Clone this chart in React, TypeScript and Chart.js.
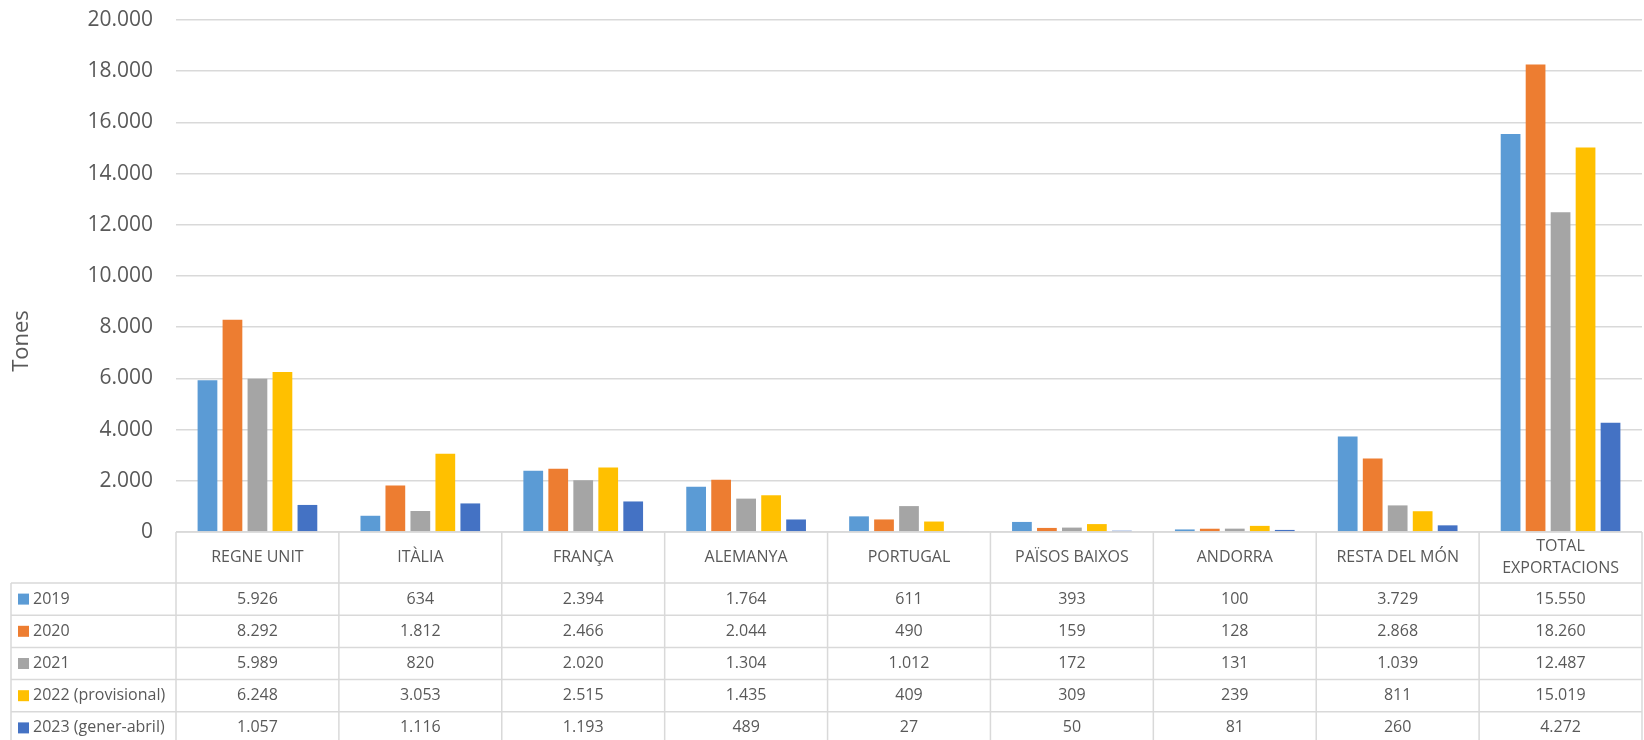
import React, { useEffect, useRef } from "react";
import { Chart, registerables } from "chart.js";

Chart.register(...registerables);

const categories = [
  "REGNE UNIT",
  "ITÀLIA",
  "FRANÇA",
  "ALEMANYA",
  "PORTUGAL",
  "PAÏSOS BAIXOS",
  "ANDORRA",
  "RESTA DEL MÓN",
  "TOTAL EXPORTACIONS",
];

const seriesNames = ["2019", "2020", "2021", "2022 (provisional)", "2023 (gener-abril)"];

const values2019 = [5926, 634, 2394, 1764, 611, 393, 100, 3729, 15550];
const values2020 = [8292, 1812, 2466, 2044, 490, 159, 128, 2868, 18260];
const values2021 = [5989, 820, 2020, 1304, 1012, 172, 131, 1039, 12487];
const values2022 = [6248, 3053, 2515, 1435, 409, 309, 239, 811, 15019];
const values2023 = [1057, 1116, 1193, 489, 27, 50, 81, 260, 4272];

const seriesValues = [values2019, values2020, values2021, values2022, values2023];
const seriesColors = ["#5B9BD5", "#ED7D31", "#A5A5A5", "#FFC000", "#4472C4"];

const yAxisTitle = "Tones";
const yMin = 0;
const yMax = 20000;
const yStep = 2000;

const FONT = "'Open Sans', 'Liberation Sans', sans-serif";
const TEXT = "#595959";
const LINE = "#d9d9d9";

function fmt(n: number): string {
  const s = String(Math.round(Math.abs(n)));
  const out = s.replace(/\B(?=(\d{3})+(?!\d))/g, ".");
  return n < 0 ? "-" + out : out;
}

function wrap(ctx: CanvasRenderingContext2D, text: string, maxW: number): string[] {
  const words = text.split(" ");
  const lines: string[] = [];
  let cur = "";
  for (const w of words) {
    const test = cur ? cur + " " + w : w;
    if (ctx.measureText(test).width > maxW && cur) {
      lines.push(cur);
      cur = w;
    } else cur = test;
  }
  if (cur) lines.push(cur);
  return lines;
}

const tablePlugin = {
  id: "dataTable",
  afterDraw(chart: any) {
    const ctx: CanvasRenderingContext2D = chart.ctx;
    const x = chart.scales.x;
    const y = chart.scales.y;
    const n = categories.length;
    const half = (x.getPixelForValue(1) - x.getPixelForValue(0)) / 2;
    const bounds: number[] = [];
    for (let i = 0; i < n; i++) bounds.push(x.getPixelForValue(i) - half);
    bounds.push(x.getPixelForValue(n - 1) + half);

    const top = y.getPixelForValue(0);
    const headerH = 51;
    const rowH = 32.2;
    const legendLeft = 11;
    const rowsTop = top + headerH;
    const bottom = rowsTop + rowH * seriesNames.length;
    const right = bounds[bounds.length - 1];

    ctx.save();
    ctx.strokeStyle = LINE;
    ctx.lineWidth = 1.5;
    ctx.beginPath();
    ctx.moveTo(bounds[0], top);
    ctx.lineTo(right, top);
    for (let r = 0; r <= seriesNames.length; r++) {
      const yy = rowsTop + r * rowH;
      ctx.moveTo(legendLeft, yy);
      ctx.lineTo(right, yy);
    }
    for (const b of bounds) {
      ctx.moveTo(b, top);
      ctx.lineTo(b, bottom);
    }
    ctx.moveTo(legendLeft, rowsTop);
    ctx.lineTo(legendLeft, bottom);
    ctx.stroke();

    ctx.fillStyle = TEXT;
    ctx.font = `16px ${FONT}`;
    ctx.textAlign = "center";
    ctx.textBaseline = "middle";
    for (let i = 0; i < n; i++) {
      const cx = (bounds[i] + bounds[i + 1]) / 2;
      const lines = wrap(ctx, categories[i], bounds[i + 1] - bounds[i] - 8);
      const lh = 22;
      const startY = top + headerH / 2 - ((lines.length - 1) * lh) / 2;
      lines.forEach((l, k) => ctx.fillText(l, cx, startY + k * lh));
    }
    for (let s = 0; s < seriesNames.length; s++) {
      const cy = rowsTop + s * rowH + rowH / 2;
      ctx.fillStyle = seriesColors[s];
      ctx.fillRect(legendLeft + 7, cy - 5.5, 11, 11);
      ctx.fillStyle = TEXT;
      ctx.textAlign = "left";
      ctx.fillText(seriesNames[s], legendLeft + 22, cy);
      ctx.textAlign = "center";
      for (let i = 0; i < n; i++) {
        const cx = (bounds[i] + bounds[i + 1]) / 2;
        ctx.fillText(fmt(seriesValues[s][i]), cx, cy);
      }
    }
    ctx.save();
    ctx.translate(22, 341);
    ctx.rotate(-Math.PI / 2);
    ctx.font = `22px ${FONT}`;
    ctx.textAlign = "center";
    ctx.textBaseline = "middle";
    ctx.fillStyle = TEXT;
    ctx.fillText(yAxisTitle, 0, 0);
    ctx.restore();
    ctx.restore();
  },
};

export default function App() {
  const ref = useRef<HTMLCanvasElement | null>(null);
  useEffect(() => {
    if (!ref.current) return;
    const chart = new Chart(ref.current, {
      type: "bar",
      data: {
        labels: categories,
        datasets: seriesNames.map((name, i) => ({
          label: name,
          data: seriesValues[i],
          backgroundColor: seriesColors[i],
          borderWidth: 0,
          categoryPercentage: 0.767,
          barPercentage: 0.79,
        })),
      },
      options: {
        animation: false,
        responsive: false,
        devicePixelRatio: 1,
        layout: { padding: { top: 20, bottom: 208, left: 0, right: 2 } },
        plugins: {
          legend: { display: false },
          tooltip: { enabled: false },
          title: { display: false },
        },
        scales: {
          x: { display: false },
          y: {
            min: yMin,
            max: yMax,
            border: { display: false },
            grid: { color: LINE, lineWidth: 1.5, drawTicks: false },
            ticks: {
              stepSize: yStep,
              padding: 23,
              color: TEXT,
              font: { family: FONT, size: 21 },
              callback: (v: any) => fmt(Number(v)),
            },
            afterFit: (scale: any) => {
              scale.width = 176;
              scale.paddingTop = 0;
              scale.paddingBottom = 0;
            },
          },
        },
      },
      plugins: [tablePlugin],
    });
    return () => chart.destroy();
  }, []);
  return (
    <div style={{ position: "fixed", left: 0, top: 0, width: 1644, height: 740, background: "#fff" }}>
      <canvas ref={ref} width={1644} height={740} style={{ width: 1644, height: 740, display: "block" }} />
    </div>
  );
}
